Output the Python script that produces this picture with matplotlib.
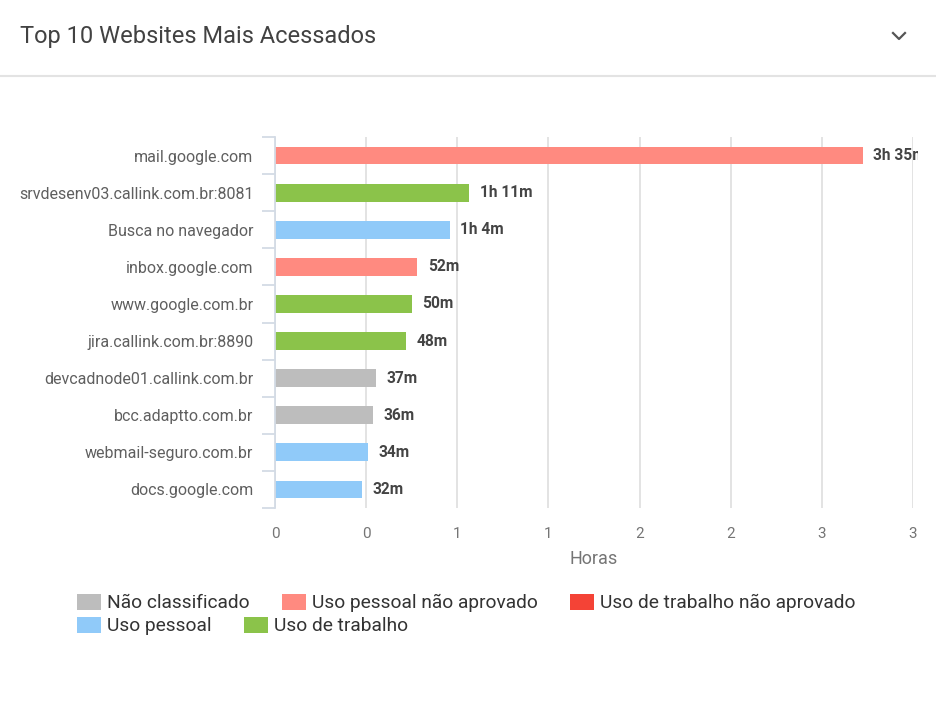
import matplotlib.pyplot as plt
import matplotlib.transforms as mtransforms
from matplotlib.patches import Patch
from matplotlib.lines import Line2D
from matplotlib.ticker import FixedLocator, FuncFormatter

plt.rcParams['font.family'] = ['Roboto', 'DejaVu Sans']

sites = ["mail.google.com", "srvdesenv03.callink.com.br:8081", "Busca no navegador",
         "inbox.google.com", "www.google.com.br", "jira.callink.com.br:8890",
         "devcadnode01.callink.com.br", "bcc.adaptto.com.br", "webmail-seguro.com.br",
         "docs.google.com"]
minutes = [215, 71, 64, 52, 50, 48, 37, 36, 34, 32]
site_cat = ["Uso pessoal não aprovado", "Uso de trabalho", "Uso pessoal",
            "Uso pessoal não aprovado", "Uso de trabalho", "Uso de trabalho",
            "Não classificado", "Não classificado", "Uso pessoal", "Uso pessoal"]

categories = ["Não classificado", "Uso pessoal não aprovado", "Uso de trabalho não aprovado",
              "Uso pessoal", "Uso de trabalho"]
cat_colors = {"Não classificado": "#BDBDBD", "Uso pessoal não aprovado": "#FF8A80",
              "Uso de trabalho não aprovado": "#F44336", "Uso pessoal": "#90CAF9",
              "Uso de trabalho": "#8BC34A"}

W, H = 936, 705
fig = plt.figure(figsize=(W / 100, H / 100), dpi=100)

def fx(px):
    return px / W

def fy(py):
    return 1 - py / H

# header
fig.text(fx(20), fy(36), "Top 10 Websites Mais Acessados", fontsize=17,
         color="#424242", va="center", ha="left")
fig.add_artist(Line2D([fx(893), fx(899), fx(905)], [fy(33), fy(39), fy(33)],
                      color="#555555", lw=1.6, transform=fig.transFigure))
fig.add_artist(Line2D([0, 1], [fy(76), fy(76)], color="#e3e3e3", lw=1.5,
                      transform=fig.transFigure))

ax = fig.add_axes([fx(275), fy(508), fx(913) - fx(275), fy(137) - fy(508)])

secs = [m * 60 for m in minutes]
ypos = list(range(len(sites)))
ax.barh(ypos, secs, height=0.48, color=[cat_colors[c] for c in site_cat], zorder=2)

ax.set_xlim(0, 14000)
ax.set_ylim(len(sites) - 0.5, -0.5)

ax.xaxis.set_major_locator(FixedLocator(range(0, 14001, 2000)))
ax.xaxis.set_major_formatter(FuncFormatter(lambda v, p: str(int(v // 3600))))
ax.tick_params(axis="x", length=0, labelsize=11, labelcolor="#757575", pad=14)
ax.grid(axis="x", color="#e3e3e3", lw=1.4, zorder=0)
ax.set_xlabel("Horas", fontsize=13, color="#757575", labelpad=6)

ax.set_yticks(ypos)
ax.set_yticklabels(sites)
ax.yaxis.set_minor_locator(FixedLocator([i - 0.5 for i in range(len(sites) + 1)]))
ax.tick_params(axis="y", which="major", length=0, labelsize=11.5, labelcolor="#5f5f5f", pad=15.5)
ax.tick_params(axis="y", which="minor", length=9.5, color="#d3dbe5", width=1.3)

for s in ["top", "right", "bottom"]:
    ax.spines[s].set_visible(False)
ax.spines["left"].set_color("#d3dbe5")
ax.spines["left"].set_linewidth(1.3)

clip = mtransforms.TransformedBbox(mtransforms.Bbox([[0, 0], [fx(918), 1]]), fig.transFigure)
for y, m, s in zip(ypos, minutes, secs):
    h, mm = divmod(m, 60)
    lab = f"{h}h {mm}m" if h else f"{mm}m"
    t = ax.text(s + 230, y, lab, va="center", ha="left", fontsize=11.2,
                fontweight="bold", color="#444444", clip_on=True)
    t.set_clip_path(None)
    t.set_clip_box(clip)

# legend, two rows
handles = [Patch(facecolor=cat_colors[c], edgecolor="none", label=c) for c in categories]
row1 = handles[:3]
row2 = handles[3:]
for row, py in [(row1, 603), (row2, 626)]:
    fig.legend(handles=row, loc="center left", bbox_to_anchor=(fx(77), fy(py)),
               ncol=len(row), frameon=False, fontsize=13.8, handlelength=1.25,
               handleheight=0.95, handletextpad=0.32, columnspacing=1.68,
               borderaxespad=0, borderpad=0, labelcolor="#333333")

fig.savefig("out.png", dpi=100)
